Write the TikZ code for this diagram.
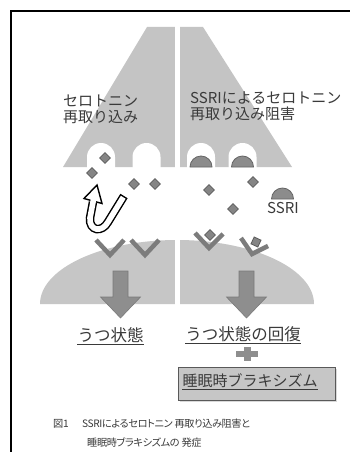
\documentclass[tikz,border=0pt]{standalone}
\usepackage{fontspec}
\newfontfamily\jp{Noto Sans CJK JP}
\newfontfamily\jpnarrow[RawFeature=+palt,LetterSpace=-4]{Noto Sans CJK JP}
\usetikzlibrary{shapes.geometric}
\definecolor{membrane}{HTML}{C4C4C4}
\definecolor{cellbody}{HTML}{C6C6C6}
\definecolor{sero}{HTML}{858585}
\definecolor{seroedge}{HTML}{5C5C5C}
\definecolor{recep}{HTML}{7C7C7C}
\definecolor{blocker}{HTML}{8C8C8C}
\definecolor{blockedge}{HTML}{656565}
\definecolor{flow}{HTML}{8E8E8E}
\definecolor{flowedge}{HTML}{7A7A7A}
\definecolor{ink}{HTML}{3A3A3A}
\begin{document}
\begin{tikzpicture}[x=1pt,y=-1pt,
  serotonin/.style={diamond,fill=sero,draw=seroedge,line width=0.8pt,
    minimum size=11pt,inner sep=0pt},
  receptor/.style={draw=recep,line width=4.5pt,line cap=butt,line join=miter},
  blockdome/.style={fill=blocker,draw=blockedge,line width=0.8pt},
  bigarrow/.style={fill=flow,draw=flowedge,line width=0.6pt},
  label/.style={font=\jp\fontsize{15}{16}\selectfont,text=ink,inner sep=0pt,align=left},
  result/.style={font=\jp\fontsize{16.5}{17}\selectfont,text=ink,inner sep=0pt},
  boxtext/.style={font=\jp\fontsize{15}{16}\selectfont,text=ink,inner sep=0pt},
  caption/.style={font=\jpnarrow\fontsize{10.2}{11}\selectfont,text=ink,inner sep=0pt,anchor=base west},
  uline/.style={draw=ink,line width=0.7pt}]
\useasboundingbox (0,0) rectangle (350,452);
\fill[white] (0,0) rectangle (350,452);

% frame (top and left edges)
\draw[black,line width=2pt] (11,452) -- (11,11) -- (350,11);

% presynaptic terminal with reuptake pores
\fill[membrane] (147,27) -- (203,27) -- (292,167) -- (63,167) -- cycle;
\foreach \cx in {101,146.5,201,242.5}
  \fill[white] (\cx-14,168) -- (\cx-14,157) arc[start angle=180,end angle=0,radius=14pt] -- (\cx+14,168) -- cycle;

% postsynaptic cell
\fill[cellbody] (40,304) arc[start angle=180,end angle=0,x radius=137pt,y radius=64pt] -- cycle;

% split between the two panels
\fill[white] (174.5,20) rectangle (179.5,312);

% SSRI plugging the pores
\foreach \cx in {201,242.5}
  \filldraw[blockdome] (\cx-11,167) arc[start angle=180,end angle=0,radius=11pt] -- cycle;
\filldraw[blockdome] (271.5,199) arc[start angle=180,end angle=0,radius=11pt] -- cycle;

% receptors
\draw[receptor] (96,240) -- (110,255) -- (124,240);
\draw[receptor] (131,240) -- (145,255) -- (159,240);
\draw[receptor] (195,233) -- (209,248) -- (223,234);
\draw[receptor] (241,238) -- (252,254) -- (268,246);

% serotonin molecules
\node[serotonin] (s1) at (105,158) {};
\node[serotonin] (s2) at (92,173) {};
\node[serotonin] (s3) at (134,184) {};
\node[serotonin] (s4) at (155,184) {};
\node[serotonin] (s5) at (209,190) {};
\node[serotonin] (s6) at (253,182) {};
\node[serotonin] (s7) at (233,209) {};
\node[serotonin] (s8) at (210,235) {};
\node[serotonin,rotate=20] (s9) at (256,242) {};

% reuptake U-turn arrow
\draw[black,line width=8.5pt] (124,196) -- (108,222) .. controls (102,233) and (89,231) .. (90,218) -- (93,202);
\filldraw[fill=white,draw=black,line width=1.4pt,line join=miter] (84,198.5) -- (97,185) -- (102,203.5) -- cycle;
\draw[white,line width=5.6pt,shorten <=1.5pt] (124,196) -- (108,222) .. controls (102,233) and (89,231) .. (90,218) -- (93.6,199);

% outcome arrows
\foreach \cx in {120.5,246.5}
  \filldraw[bigarrow] (\cx-7.5,271) -- (\cx+7.5,271) -- (\cx+7.5,297) -- (\cx+20,297)
    -- (\cx,318) -- (\cx-20,297) -- (\cx-7.5,297) -- cycle;

% texts in the panels
\node[label,anchor=north west] (reup) at (63,95) {セロトニン\\再取り込み};
\node[label,anchor=north west] (block) at (190,92) {SSRIによるセロトニン\\再取り込み阻害};
\node[label] (ssri) at (283,208) {SSRI};

% outcomes
\node[result] (dep) at (110.5,335) {うつ状態};
\draw[uline] ([yshift=-3pt]dep.base west) -- ([yshift=-3pt]dep.base east);
\node[result] (rec) at (243,334) {うつ状態の回復};
\draw[uline] ([yshift=-3pt]rec.base west) -- ([yshift=-3pt]rec.base east);

% plus sign
\fill[flow] (236,351) rectangle (258,357);
\fill[flow] (243.5,347) rectangle (250.5,361);

% bruxism box
\fill[gray!30] (180,369) rectangle (337,402);
\node[draw=gray!70!black,fill=cellbody,line width=0.7pt,minimum width=157pt,minimum height=33pt,inner sep=0pt] (brux) at (256.5,383.5) {};
\node[boxtext] (bruxtxt) at (250,381) {睡眠時ブラキシズム};
\draw[uline] ([yshift=-3pt]bruxtxt.base west) -- ([yshift=-3pt]bruxtxt.base east);

% figure caption
\node[caption] (fig) at (53,427) {図1};
\node[caption] (cap1) at (82,427) {SSRIによるセロトニン 再取り込み阻害と};
\node[caption] (cap2) at (87,446) {睡眠時ブラキシズムの 発症};
\end{tikzpicture}
\end{document}
